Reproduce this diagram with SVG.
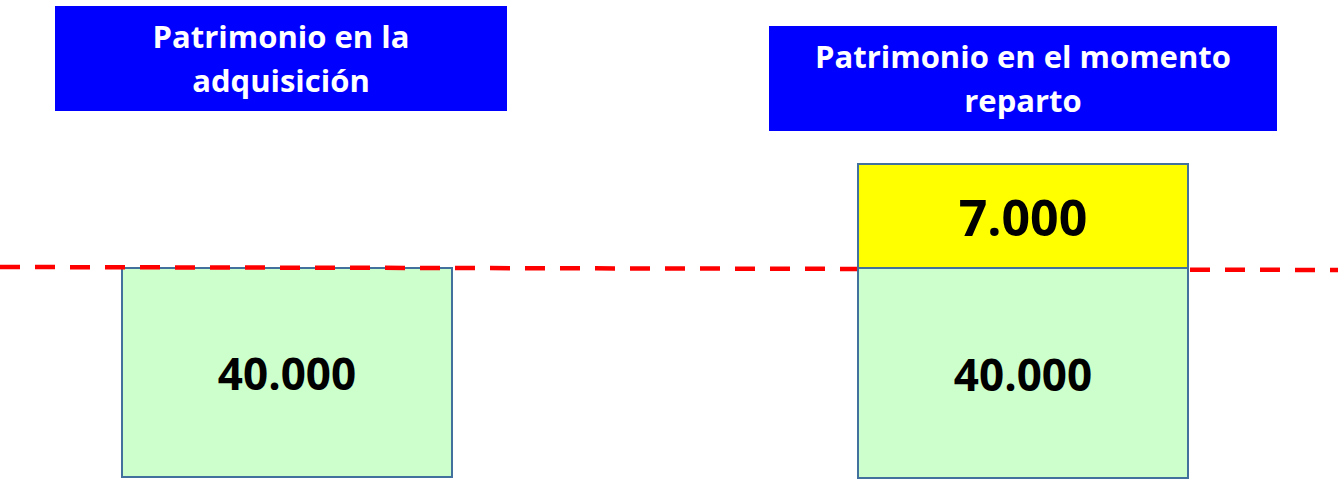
<svg xmlns="http://www.w3.org/2000/svg" width="1338" height="480" viewBox="0 0 1338 480">
<style>
.hdr{fill:#0000FF;}
.ht{fill:#FFFFFF;font-family:"Open Sans","Liberation Sans",sans-serif;font-weight:bold;font-size:31px;text-anchor:middle;}
.grn{fill:#CCFFCC;stroke:#41719C;stroke-width:2;}
.yel{fill:#FFFF00;stroke:#41719C;stroke-width:2;}
.num{fill:#000000;font-family:"Open Sans","Liberation Sans",sans-serif;font-weight:bold;font-size:44px;text-anchor:middle;}
.big{font-size:50px;}
.dash{stroke:#FF0000;stroke-width:4.5;stroke-dasharray:20 15;fill:none;}
</style>
<rect width="1338" height="480" fill="#FFFFFF"/>
<g id="header-left">
<rect class="hdr" x="55" y="6" width="452" height="105"/>
<text class="ht" x="281" y="48">Patrimonio en la</text>
<text class="ht" x="281" y="92">adquisición</text>
</g>
<g id="header-right">
<rect class="hdr" x="769" y="26" width="508" height="105"/>
<text class="ht" x="1023" y="68">Patrimonio en el momento</text>
<text class="ht" x="1023" y="112">reparto</text>
</g>
<g id="box-left">
<rect class="grn" x="122" y="268" width="330" height="209"/>
<text class="num" x="287" y="390">40.000</text>
</g>
<g id="connectors">
<line class="dash" x1="0" y1="267" x2="1338" y2="270"/>
</g>
<g id="box-right-top">
<rect class="yel" x="858" y="164" width="330" height="104"/>
<text class="num big" x="1023" y="236">7.000</text>
</g>
<g id="box-right-bottom">
<rect class="grn" x="858" y="268" width="330" height="210"/>
<text class="num" x="1023" y="391">40.000</text>
</g>
</svg>
